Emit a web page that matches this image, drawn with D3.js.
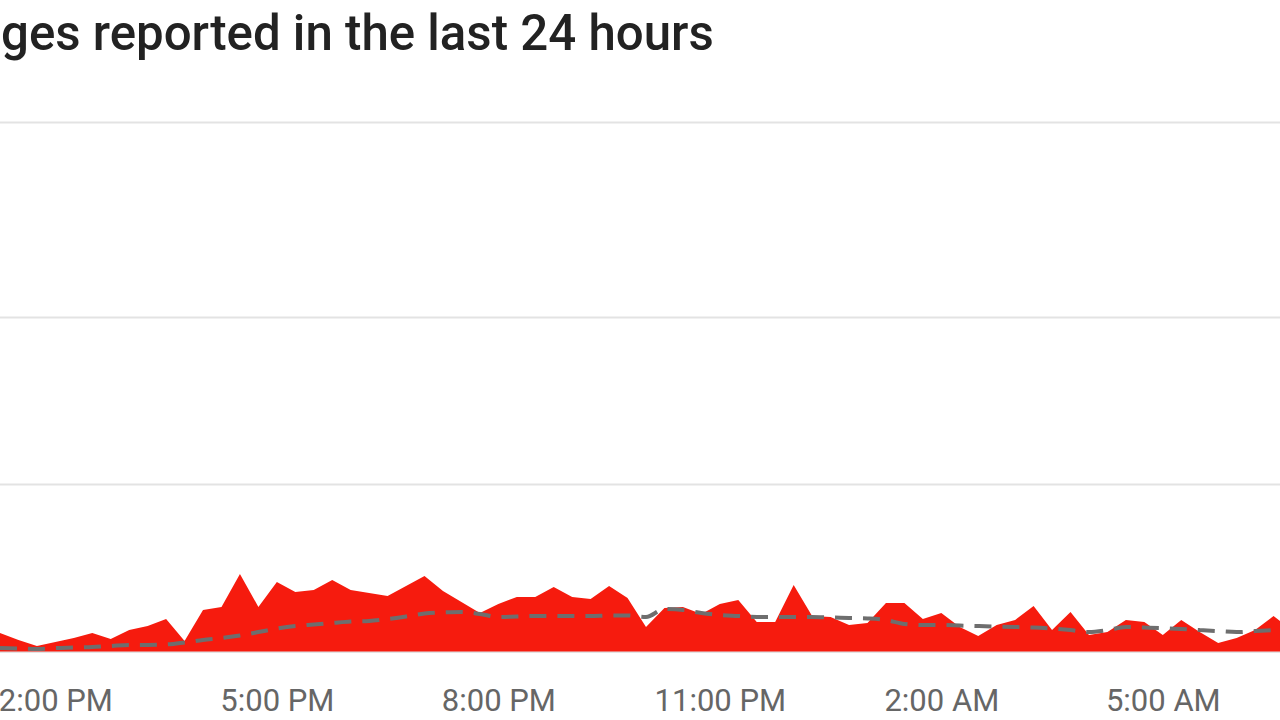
<!DOCTYPE html>
<html>
<head>
<meta charset="utf-8">
<script src="https://cdn.jsdelivr.net/npm/d3@7"></script>
<style>
  html, body { margin: 0; padding: 0; background: #fff; overflow: hidden; }
  svg { display: block; }
</style>
</head>
<body>
<svg id="chart" width="1280" height="720"></svg>
<script>
// ---- data ----
const titleText = "ges reported in the last 24 hours";
const startTime = "2024-01-01 13:15";           // first sample, 15-minute steps
const reports = [
  1.10, 0.69, 0.33, 0.57, 0.81, 1.10, 0.75, 1.28, 1.52, 1.94,
  0.63, 2.48, 2.66, 4.63, 2.66, 4.15, 3.55, 3.67, 4.27, 3.67,
  3.49, 3.31, 3.91, 4.51, 3.61, 2.96, 2.30, 2.84, 3.25, 3.25,
  3.85, 3.25, 3.13, 3.91, 3.19, 1.46, 2.60, 2.66, 2.24, 2.84,
  3.07, 1.76, 1.76, 3.97, 2.12, 2.06, 1.58, 1.70, 2.90, 2.90,
  1.94, 2.30, 1.46, 0.93, 1.58, 1.88, 2.72, 1.28, 2.36, 0.99,
  1.16, 1.88, 1.76, 0.99, 1.88, 1.16, 0.51, 0.81, 1.28, 2.12,
  1.28
];
const baseline = [
  0.21, 0.18, 0.15, 0.21, 0.24, 0.27, 0.33, 0.39, 0.39, 0.42,
  0.54, 0.69, 0.81, 0.96, 1.16, 1.37, 1.52, 1.61, 1.70, 1.79,
  1.82, 1.94, 2.09, 2.27, 2.33, 2.36, 2.24, 2.06, 2.09, 2.12,
  2.12, 2.12, 2.12, 2.15, 2.15, 2.06, 2.54, 2.48, 2.30, 2.18,
  2.12, 2.06, 2.06, 2.06, 2.06, 2.03, 2.00, 1.97, 1.88, 1.64,
  1.58, 1.58, 1.55, 1.52, 1.49, 1.46, 1.43, 1.37, 1.28, 1.16,
  1.28, 1.46, 1.43, 1.40, 1.34, 1.28, 1.22, 1.16, 1.22, 1.28,
  1.31
];
const tickLabels = ["2024-01-01 14:00", "2024-01-01 17:00", "2024-01-01 20:00",
                    "2024-01-01 23:00", "2024-01-02 02:00", "2024-01-02 05:00"];
const gridValues = [0, 10, 20, 30];

// ---- setup ----
const parse = d3.timeParse("%Y-%m-%d %H:%M");
const t0 = parse(startTime);
const times = reports.map((_, i) => d3.timeMinute.offset(t0, 15 * i));
const tickTimes = tickLabels.map(parse);

const svg = d3.select("#chart");
const W = 1280;

const x = d3.scaleTime()
  .domain([times[0], times[times.length - 1]])
  .range([0, 1292]);

const y = d3.scaleLinear()
  .domain(gridValues)
  .range([651.5, 484, 317, 122]);

// grid
const grid = svg.append("g")
  .call(d3.axisLeft(y).tickValues(gridValues).tickSize(-W).tickFormat(""));
grid.select(".domain").remove();
grid.selectAll(".tick line").attr("stroke", "#e3e3e3").attr("stroke-width", 2);

// area
const area = d3.area()
  .x((d, i) => x(times[i]))
  .y0(y(0))
  .y1(d => y(d));
svg.append("path")
  .datum(reports)
  .attr("d", area)
  .attr("fill", "#f61b0e");

// baseline dashed
const line = d3.line()
  .x((d, i) => x(times[i]))
  .y(d => y(d))
  .curve(d3.curveMonotoneX);
svg.append("path")
  .datum(baseline)
  .attr("d", line)
  .attr("fill", "none")
  .attr("stroke", "#6e6e6e")
  .attr("stroke-width", 4)
  .attr("stroke-dasharray", "17,11");

// x axis
const xa = svg.append("g")
  .attr("transform", "translate(0,676)")
  .call(d3.axisBottom(x).tickValues(tickTimes).tickSize(0)
    .tickFormat(d3.timeFormat("%-I:%M %p")));
xa.select(".domain").remove();
xa.selectAll("text")
  .attr("font-family", "Roboto, sans-serif")
  .attr("font-size", 31)
  .attr("fill", "#666")
  .attr("dy", "1.03em");

// title
svg.append("text")
  .attr("x", 1)
  .attr("y", 50)
  .attr("text-anchor", "start")
  .attr("font-family", "Roboto, sans-serif")
  .attr("font-weight", 500)
  .attr("font-size", 49.2)
  .attr("fill", "#222")
  .text(titleText);
</script>
</body>
</html>
